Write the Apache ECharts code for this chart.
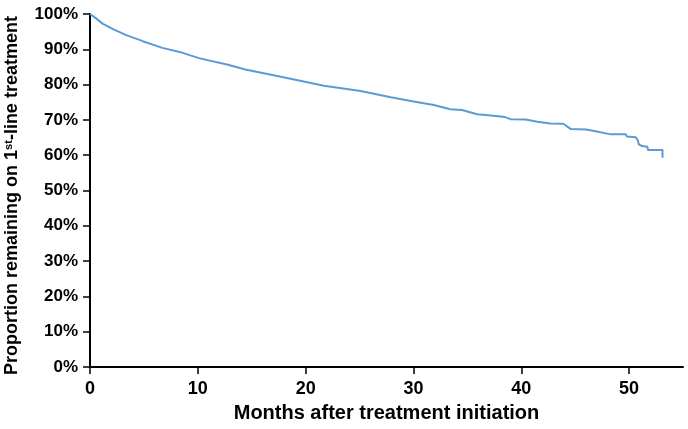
<!DOCTYPE html>
<html>
<head>
<meta charset="utf-8">
<script src="https://cdn.jsdelivr.net/npm/echarts@6/dist/echarts.min.js"></script>
<style>
html,body{margin:0;padding:0;background:#fff;}
#chart{width:688px;height:429px;}
</style>
</head>
<body>
<div id="chart"></div>
<script>
const months = [0, 0.5, 1.2, 2.1, 3.3, 4.9, 6.7, 8.6, 10.1, 12.8, 14.4, 17.6, 21.7, 25.1, 27.9, 30.0, 31.9, 33.4, 34.5, 35.9, 37.4, 38.5, 39.0, 40.4, 41.5, 42.7, 43.9, 44.6, 46.0, 47.0, 48.3, 49.7, 49.8, 50.6, 50.8, 50.9, 51.2, 51.7, 51.75, 53.1, 53.1];
const remaining = [100, 98.9, 97.2, 95.8, 94.1, 92.3, 90.4, 89.0, 87.5, 85.6, 84.3, 82.3, 79.7, 78.2, 76.4, 75.2, 74.2, 73.0, 72.8, 71.6, 71.2, 70.8, 70.2, 70.1, 69.5, 69.0, 68.9, 67.4, 67.3, 66.7, 65.9, 65.9, 65.3, 65.1, 64.3, 63.1, 62.6, 62.4, 61.5, 61.5, 59.3];
const xTicks = [0, 10, 20, 30, 40, 50];
const xTitle = 'Months after treatment initiation';
const yTitle = 'Proportion remaining on 1{sup|st}-line treatment';

const chart = echarts.init(document.getElementById('chart'), null, {renderer: 'canvas'});
const font = 'Liberation Sans, Arial, sans-serif';
chart.setOption({
  animation: false,
  backgroundColor: '#fff',
  grid: {left: 90, right: 5, top: 14, bottom: 62, containLabel: false, outerBoundsMode: 'none'},
  xAxis: {
    type: 'value', min: 0, max: 55, interval: 10,
    name: xTitle, nameLocation: 'middle', nameGap: 36,
    nameTextStyle: {fontFamily: font, fontWeight: 'bold', fontSize: 20, color: '#000'},
    axisLine: {show: true, onZero: false, lineStyle: {color: '#000', width: 2}},
    axisTick: {show: true, length: 7, customValues: xTicks, lineStyle: {color: '#000', width: 1.5}},
    axisLabel: {customValues: xTicks, fontFamily: font, fontWeight: 'bold', fontSize: 18, color: '#000', margin: 13},
    splitLine: {show: false}
  },
  yAxis: {
    type: 'value', min: 0, max: 100, interval: 10,
    name: yTitle, nameLocation: 'middle', nameGap: 69, nameRotate: 90,
    nameTextStyle: {fontFamily: font, fontWeight: 'bold', fontSize: 18, color: '#000', padding: [0, 10, 0, 0],
      rich: {sup: {fontFamily: font, fontWeight: 'bold', fontSize: 11, color: '#000', verticalAlign: 'top', padding: [0,0,7,0]}}},
    axisLine: {show: true, lineStyle: {color: '#000', width: 2}},
    axisTick: {show: true, length: 7, lineStyle: {color: '#000', width: 1.5}},
    axisLabel: {formatter: '{value}%', fontFamily: font, fontWeight: 'bold', fontSize: 17, color: '#000', margin: 12},
    splitLine: {show: false}
  },
  series: [{
    type: 'line',
    data: months.map((m, i) => [m, remaining[i]]),
    showSymbol: false,
    symbol: 'none',
    lineStyle: {color: '#5b9bd5', width: 2},
    itemStyle: {color: '#5b9bd5'}
  }]
});
</script>
</body>
</html>
